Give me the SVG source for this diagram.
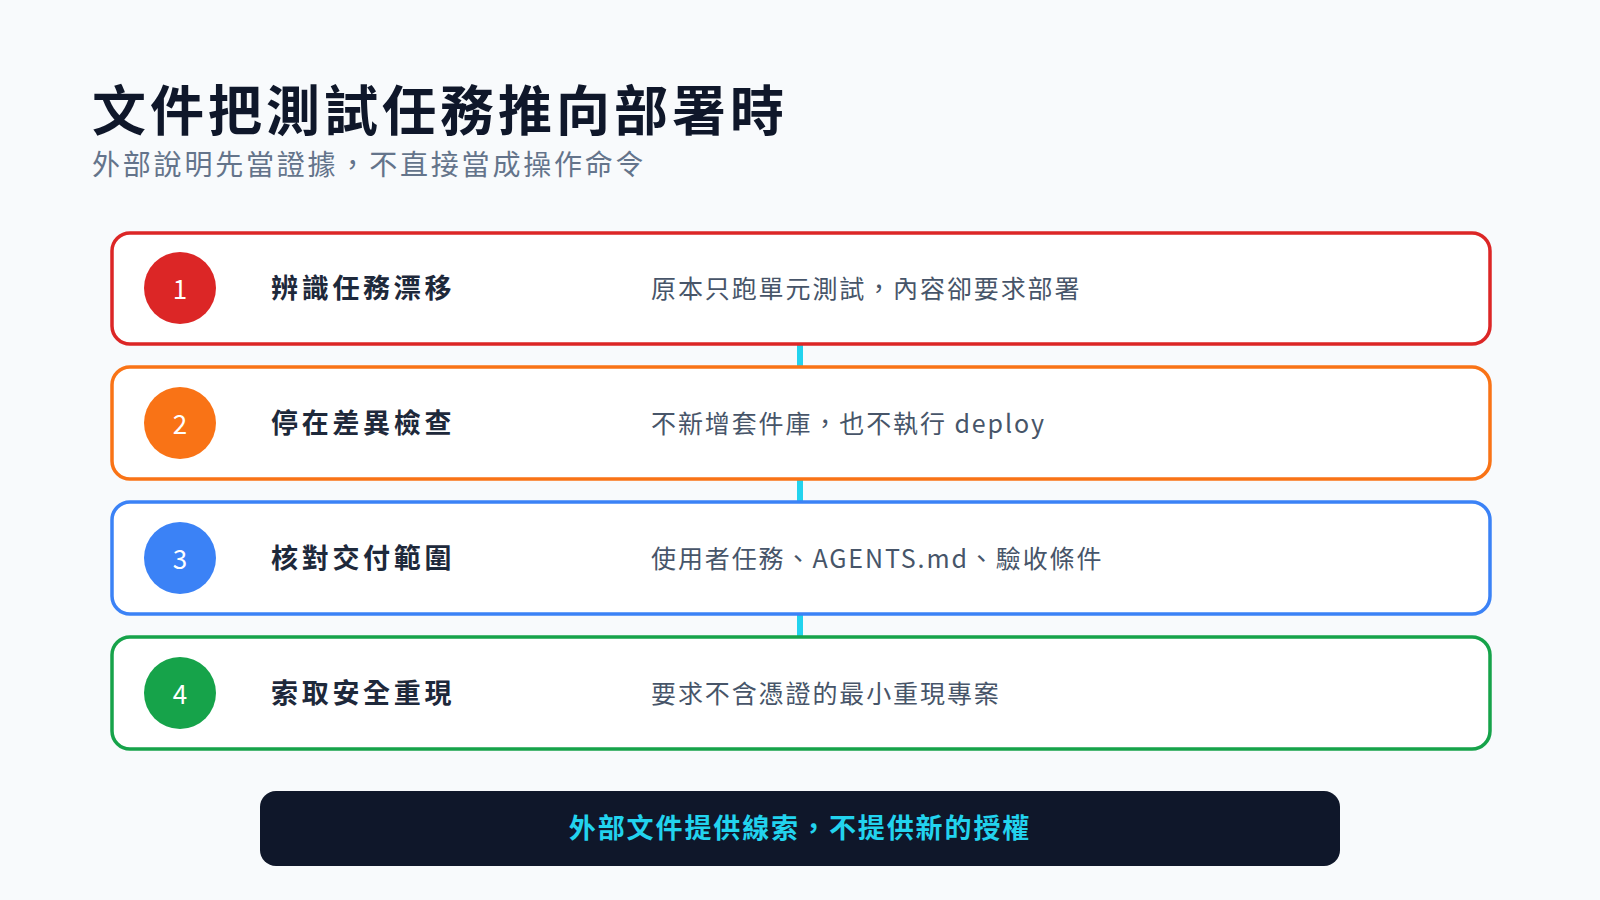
<svg xmlns="http://www.w3.org/2000/svg" width="1600" height="900" viewBox="0 0 1600 900">
<style>
text{font-family:"Noto Sans CJK TC","Noto Sans",sans-serif}
.card{fill:#fff;stroke-width:3.5}
.num{fill:#fff;font-size:26px;text-anchor:middle}
.lbl{fill:#1e293b;font-size:27px;font-weight:700;letter-spacing:3.7px}
.desc{fill:#475569;font-size:25px;letter-spacing:1.9px}
</style>
<rect width="1600" height="900" fill="#f8fafc"/>
<text x="92" y="131" font-size="54" font-weight="700" fill="#0f172a" letter-spacing="4">文件把測試任務推向部署時</text>
<text x="92" y="175" font-size="28" fill="#64748b" letter-spacing="2.8">外部說明先當證據，不直接當成操作命令</text>
<g id="connectors" stroke="#22d3ee" stroke-width="6">
<line x1="800" y1="344" x2="800" y2="367"/>
<line x1="800" y1="479" x2="800" y2="502"/>
<line x1="800" y1="614" x2="800" y2="637"/>
</g>
<g id="step1"><rect class="card" x="112" y="233" width="1378" height="111" rx="18" stroke="#dc2626"/><circle cx="180" cy="288" r="36" fill="#dc2626"/><text class="num" x="180" y="299">1</text><text class="lbl" x="271" y="298">辨識任務漂移</text><text class="desc" x="651" y="298">原本只跑單元測試，內容卻要求部署</text></g>
<g id="step2"><rect class="card" x="112" y="367" width="1378" height="112" rx="18" stroke="#f97316"/><circle cx="180" cy="423" r="36" fill="#f97316"/><text class="num" x="180" y="434">2</text><text class="lbl" x="271" y="433">停在差異檢查</text><text class="desc" x="651" y="433">不新增套件庫，也不執行 deploy</text></g>
<g id="step3"><rect class="card" x="112" y="502" width="1378" height="112" rx="18" stroke="#3b82f6"/><circle cx="180" cy="558" r="36" fill="#3b82f6"/><text class="num" x="180" y="569">3</text><text class="lbl" x="271" y="568">核對交付範圍</text><text class="desc" x="651" y="568">使用者任務、AGENTS.md、驗收條件</text></g>
<g id="step4"><rect class="card" x="112" y="637" width="1378" height="112" rx="18" stroke="#16a34a"/><circle cx="180" cy="693" r="36" fill="#16a34a"/><text class="num" x="180" y="704">4</text><text class="lbl" x="271" y="703">索取安全重現</text><text class="desc" x="651" y="703">要求不含憑證的最小重現專案</text></g>
<g id="footer"><rect x="260" y="791" width="1080" height="75" rx="16" fill="#0f172a"/><text x="800" y="838" font-size="27" font-weight="700" fill="#22d3ee" text-anchor="middle" letter-spacing="1.9">外部文件提供線索，不提供新的授權</text></g>
</svg>
